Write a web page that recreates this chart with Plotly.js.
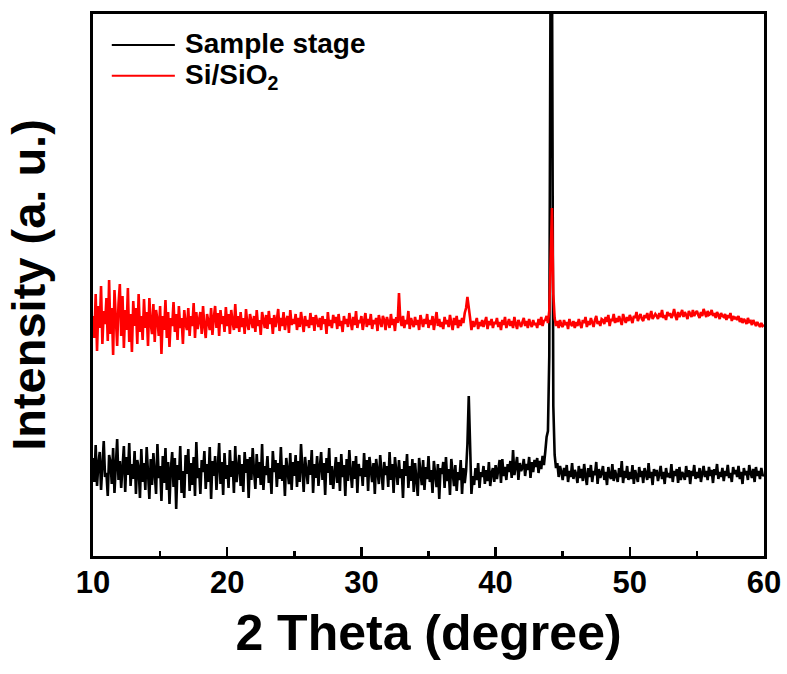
<!DOCTYPE html>
<html>
<head>
<meta charset="utf-8">
<script src="https://cdn.plot.ly/plotly-3.0.1.min.js"></script>
<style>html,body{margin:0;padding:0;background:#fff;}#chart{width:787px;height:674px;}</style>
</head>
<body>
<div id="chart"></div>
<script>
// 2θ scan from 10° to 60°, step 0.1° (x0 / dx of the traces)
const thetaStart = 10;
const thetaStep = 0.1;
const seriesNames = ["Sample stage", "Si/SiO<sub>2</sub>"];
const xTickVals = [10, 20, 30, 40, 50, 60];

// Sample stage intensities (a.u.), one row per degree
const sampleStage = [
  98,74,111,70,92,104,66,88,115,79,
  83,60,101,94,72,108,63,90,117,76,
  95,68,86,110,64,99,81,113,70,92,
  77,105,62,96,88,58,107,74,93,66,
  109,80,57,97,71,103,85,62,112,78,
  90,55,100,73,108,66,94,52,87,104,
  69,98,47,91,76,110,63,85,58,101,
  82,107,65,93,71,99,60,114,78,88,
  62,96,84,105,67,92,74,109,57,95,
  80,100,66,89,113,72,94,61,103,77,
  91,68,106,79,95,63,110,74,87,101,
  70,92,64,104,83,97,58,99,76,108,
  85,67,102,78,94,71,112,66,90,81,
  100,73,88,62,105,84,96,69,93,77,
  109,75,91,60,98,86,72,103,66,94,
  80,101,69,95,74,112,83,64,99,87,
  72,96,81,106,63,92,78,100,70,89,
  104,76,93,61,98,83,108,71,90,67,
  86,99,73,94,65,102,79,91,60,97,
  75,106,84,68,95,77,100,63,92,80,
  88,70,103,79,96,65,99,82,74,93,
  62,97,85,72,101,78,66,94,81,90,
  69,104,76,92,63,99,84,71,96,78,
  87,58,95,80,102,68,90,75,97,64,
  93,79,60,98,83,71,96,66,89,77,
  100,74,86,63,95,80,69,92,57,88,
  82,94,68,99,75,87,61,97,79,70,
  91,65,84,76,96,62,88,73,85,112,
  160,118,62,80,71,88,76,93,68,84,
  79,90,72,86,75,94,70,83,88,74,
  91,77,85,96,73,97,80,89,76,92,
  84,95,78,106,81,90,99,76,93,85,
  88,97,80,92,86,99,78,94,84,96,
  89,98,83,95,87,100,91,104,119,125,
  200,600,600,150,101,88,93,79,90,84,
  76,88,80,91,74,85,79,93,77,86,
  82,73,90,78,87,75,92,80,71,88,
  79,91,74,85,81,94,72,87,78,83,
  90,76,84,71,89,80,77,92,75,86,
  81,74,88,79,95,73,85,78,90,76,
  84,77,91,72,86,80,74,89,79,85,
  73,88,81,76,93,78,84,71,87,80,
  86,75,82,90,77,84,72,88,79,83,
  78,92,74,85,80,87,73,89,76,84,
  81,76,90,79,86,72,85,80,91,77,
  84,78,88,74,83,90,79,85,76,89,
  80,86,73,87,81,92,77,84,79,88,
  75,85,80,91,78,83,74,89,82,86,
  79,90,77,84,72,88,81,85,76,91,
  83,78,87,74,89,80,85,77,88,81,
  80
];

// Si/SiO2 intensities (a.u.), one row per degree
const siSiO2 = [
  240,218,262,205,250,228,270,212,245,232,
  258,215,276,222,248,201,266,230,210,252,
  272,220,260,208,246,226,268,214,242,204,
  255,230,248,212,262,224,240,216,257,228,
  244,210,258,232,222,252,214,246,236,220,
  250,202,240,226,256,218,244,209,238,230,
  254,224,242,216,250,228,238,212,246,232,
  226,248,220,240,230,253,218,244,227,236,
  244,222,250,230,218,242,234,226,248,221,
  238,250,228,243,220,246,232,240,224,249,
  230,242,222,246,234,226,252,228,240,224,
  244,229,238,222,247,232,226,242,235,228,
  240,224,246,230,236,221,244,233,228,241,
  227,245,232,238,222,241,229,236,247,225,
  238,230,244,226,236,240,223,246,231,237,
  232,242,226,238,229,244,234,224,240,230,
  236,228,243,231,239,225,241,234,229,238,
  226,240,232,237,222,244,230,236,228,241,
  233,239,227,242,230,235,224,240,232,237,
  229,243,234,226,239,231,245,228,236,233,
  240,226,235,243,229,237,231,242,227,236,
  232,238,225,241,234,229,240,236,226,239,
  234,228,242,231,237,225,239,233,263,236,
  230,240,228,236,232,245,227,238,233,229,
  239,231,236,226,241,233,229,237,232,242,
  228,236,231,240,226,235,244,230,237,229,
  234,227,239,232,236,229,241,233,226,238,
  231,240,228,236,230,238,233,243,248,259,
  250,238,226,235,229,233,238,227,234,230,
  236,229,233,239,227,235,231,237,228,234,
  232,238,229,234,226,236,231,239,228,233,
  237,230,235,228,239,232,227,236,233,229,
  234,238,230,235,228,237,232,229,236,231,
  233,228,237,231,239,230,235,236,240,233,
  245,300,348,262,238,230,235,228,236,231,
  229,236,231,234,227,237,232,230,235,228,
  234,230,237,232,228,236,233,239,229,235,
  231,238,233,229,236,240,232,235,230,237,
  236,232,239,234,241,230,237,235,242,233,
  238,234,240,236,231,242,237,233,239,235,
  241,236,233,240,238,244,235,239,242,237,
  235,241,238,243,236,240,245,237,239,242,
  240,237,243,239,246,238,241,236,244,240,
  243,238,241,247,240,236,244,239,242,246,
  239,244,241,237,245,242,239,246,240,243,
  245,241,238,244,240,247,242,239,245,241,
  242,246,240,243,238,244,241,237,243,240,
  239,242,236,241,238,243,235,240,237,239,
  236,240,234,238,233,237,235,232,238,234,
  235,231,236,233,230,234,232,229,233,230,
  231
];

const FONT = "Liberation Sans, Arial, Helvetica, sans-serif";

const traces = [
  {type: "scatter", mode: "lines", name: seriesNames[0], x0: thetaStart, dx: thetaStep,
   y: sampleStage, line: {color: "#000000", width: 2.6}, showlegend: false},
  {type: "scatter", mode: "lines", name: seriesNames[1], x0: thetaStart, dx: thetaStep,
   y: siSiO2, line: {color: "#ff0000", width: 2.6}, showlegend: false}
];

const layout = {
  width: 787, height: 674,
  margin: {l: 93, r: 23, t: 14, b: 118},
  paper_bgcolor: "#ffffff", plot_bgcolor: "#ffffff",
  font: {family: FONT, color: "#000", weight: "bold"},
  showlegend: false,
  xaxis: {
    range: [10, 60], tickvals: xTickVals, ticktext: xTickVals.map(String),
    ticks: "inside", ticklen: 9, tickwidth: 2.5, tickcolor: "#000",
    minor: {dtick: 5, tick0: 10, ticks: "inside", ticklen: 5, tickwidth: 2.5, tickcolor: "#000"},
    showline: true, linewidth: 3, linecolor: "#000", mirror: true,
    showgrid: false, zeroline: false, ticklabelstandoff: -3,
    tickfont: {family: FONT, size: 31, weight: "bold", color: "#000"},
    title: {text: "2 Theta (degree)", font: {family: FONT, size: 50, weight: "bold", color: "#000"}, standoff: 16}
  },
  yaxis: {
    range: [0, 542], showticklabels: false, ticks: "",
    showline: true, linewidth: 3, linecolor: "#000", mirror: true,
    showgrid: false, zeroline: false,
    title: {text: "Intensity (a. u.)", font: {family: FONT, size: 47, weight: "bold", color: "#000"}, standoff: 30}
  },
  shapes: [
    {type: "line", xref: "paper", yref: "paper", x0: 0.028, x1: 0.122, y0: 0.943, y1: 0.943, line: {color: "#000", width: 2}},
    {type: "line", xref: "paper", yref: "paper", x0: 0.028, x1: 0.122, y0: 0.886, y1: 0.886, line: {color: "#ff0000", width: 2}}
  ],
  annotations: [
    {xref: "paper", yref: "paper", x: 0.134, y: 0.945, xanchor: "left", yanchor: "middle", showarrow: false,
     text: seriesNames[0], font: {family: FONT, size: 28, weight: "bold", color: "#000"}},
    {xref: "paper", yref: "paper", x: 0.134, y: 0.884, xanchor: "left", yanchor: "middle", showarrow: false,
     text: seriesNames[1], font: {family: FONT, size: 28, weight: "bold", color: "#000"}}
  ]
};

Plotly.newPlot("chart", traces, layout, {displayModeBar: false, staticPlot: true});
</script>
</body>
</html>
